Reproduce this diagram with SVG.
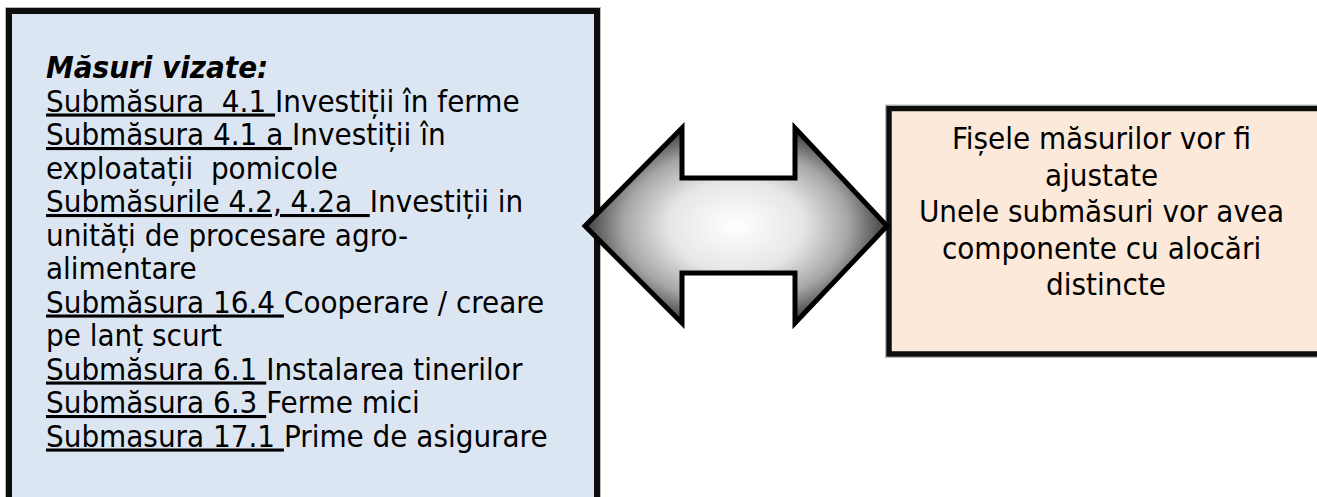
<svg xmlns="http://www.w3.org/2000/svg" width="1317" height="497" viewBox="0 0 1317 497">
  <style>
    .txt { font-family: 'DejaVu Sans', 'Liberation Sans', sans-serif; font-stretch: condensed; fill: #000; }
    .left { font-size: 31px; }
    .right { font-size: 31px; text-anchor: middle; }
    .u { text-decoration: underline; }
    .box { stroke: #0d0d0d; }
    .halo { fill: none; stroke: #b8b8b8; stroke-width: 1; }
  </style>
  <defs>
    <radialGradient id="arrowGrad" gradientUnits="userSpaceOnUse" cx="736" cy="226" r="150" gradientTransform="translate(736 226) scale(1 0.68) translate(-736 -226)">
      <stop offset="0" stop-color="#ffffff"/>
      <stop offset="0.45" stop-color="#e6e6e6"/>
      <stop offset="0.75" stop-color="#a6a6a6"/>
      <stop offset="1" stop-color="#404040"/>
    </radialGradient>
  </defs>
  <rect width="1317" height="497" fill="#ffffff"/>

  <g id="node-left">
    <rect class="halo" x="5.5" y="7.5" width="595" height="510"/>
    <rect class="box" x="9" y="11" width="588" height="500" fill="#DCE6F2" stroke-width="6"/>
    <text class="txt left">
      <tspan x="46" y="78" font-weight="bold" font-style="italic">Măsuri vizate:</tspan>
      <tspan x="46" y="111.5"><tspan class="u">Submăsura&#160; 4.1 </tspan>Investiții în ferme</tspan>
      <tspan x="46" y="145"><tspan class="u">Submăsura 4.1 a </tspan>Investiții în</tspan>
      <tspan x="46" y="178.5">exploatații&#160; pomicole</tspan>
      <tspan x="46" y="212"><tspan class="u">Submăsurile 4.2, 4.2a&#160; </tspan>Investiții in</tspan>
      <tspan x="46" y="245.5">unități de procesare agro-</tspan>
      <tspan x="46" y="279">alimentare</tspan>
      <tspan x="46" y="312.5"><tspan class="u">Submăsura 16.4 </tspan>Cooperare / creare</tspan>
      <tspan x="46" y="346"><tspan>pe lanț scurt</tspan></tspan>
      <tspan x="46" y="379.5"><tspan class="u">Submăsura 6.1 </tspan>Instalarea tinerilor</tspan>
      <tspan x="46" y="413"><tspan class="u">Submăsura 6.3 </tspan>Ferme mici</tspan>
      <tspan x="46" y="446.5"><tspan class="u">Submasura 17.1 </tspan>Prime de asigurare</tspan>
    </text>
  </g>

  <g id="node-right">
    <rect class="halo" x="885.5" y="105" width="450" height="252.5"/>
    <rect class="box" x="889" y="108.5" width="440" height="245.5" fill="#FDE9D9" stroke-width="5.5"/>
    <text class="txt right">
      <tspan x="1106" y="149">Fișele măsurilor vor fi</tspan>
      <tspan x="1106" y="185.5">ajustate</tspan>
      <tspan x="1106" y="222">Unele submăsuri vor avea</tspan>
      <tspan x="1106" y="258.5">componente cu alocări</tspan>
      <tspan x="1106" y="295">distincte</tspan>
    </text>
  </g>

  <g id="connectors">
    <polygon points="585,226 682,128 682,178 795,178 795,128 887,226 795,323 795,273 682,273 682,323" fill="url(#arrowGrad)" stroke="#000" stroke-width="5" stroke-linejoin="miter"/>
  </g>
</svg>
